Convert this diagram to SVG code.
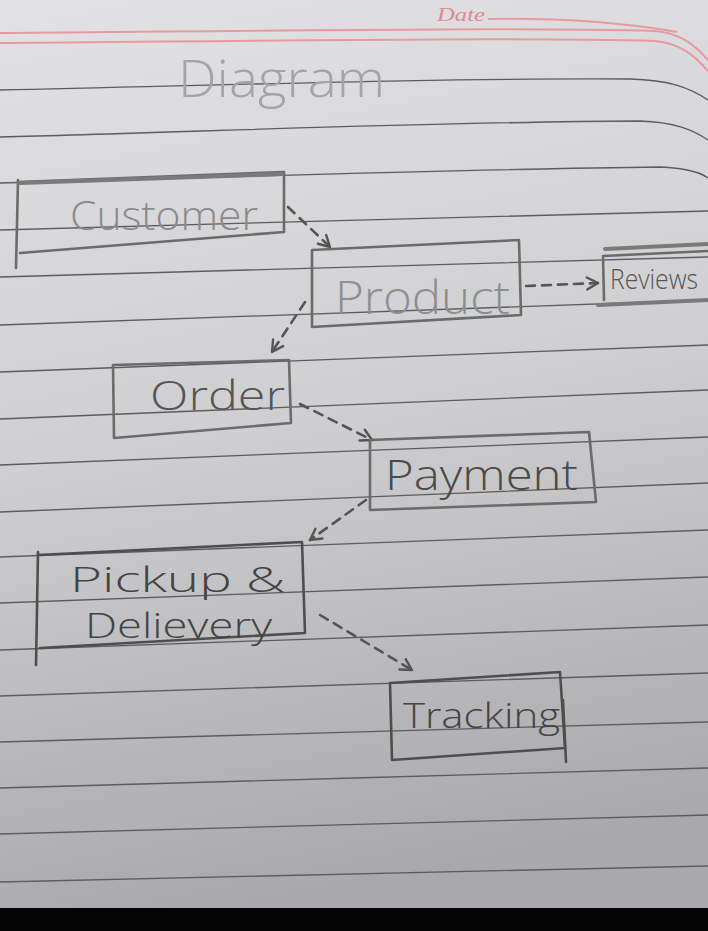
<svg xmlns="http://www.w3.org/2000/svg" width="708" height="931" viewBox="0 0 708 931">
<defs>
<linearGradient id="paper" x1="0" y1="0" x2="0.15" y2="1">
<stop offset="0" stop-color="#e2e2e4"/>
<stop offset="0.5" stop-color="#cfcfd1"/>
<stop offset="1" stop-color="#a9a9ab"/>
</linearGradient>
<marker id="arr" viewBox="0 0 16 16" refX="13" refY="8" markerWidth="16" markerHeight="16" markerUnits="userSpaceOnUse" orient="auto">
<path d="M2,2 L13,8 L2,14" fill="none" stroke="#555" stroke-width="2.4" stroke-linecap="round" stroke-linejoin="round"/>
</marker>
<style>
.rule{fill:none;stroke:#5c5c5e;stroke-width:1.3}
.pink{fill:none;stroke:#e59aa0;stroke-width:2}
.box{fill:none;stroke:#6b6b6b;stroke-width:2.6;stroke-linejoin:round;stroke-linecap:round}
.dark{stroke:#4e4e4e}
.thick{fill:none;stroke:#7a7a7a;stroke-width:4;stroke-linecap:round}
.conn{fill:none;stroke:#555;stroke-width:2.6;stroke-dasharray:9 7;stroke-linecap:round}
.hand{font-family:"Open Sans","DejaVu Sans",sans-serif;font-weight:300;}
</style>
</defs>
<rect x="0" y="0" width="708" height="931" fill="url(#paper)"/>
<rect x="0" y="908" width="708" height="23" fill="#050505"/>
<g id="paper-lines">
<path class="pink" d="M0,33 C250,31 500,27 655,31 C680,33 695,45 708,60"/>
<path class="pink" d="M0,43 C250,41 500,37 655,41 C680,43 695,56 708,71"/>
<path class="pink" d="M488,19 C560,18 620,22 677,32"/>
<text x="437" y="21" font-family="Liberation Serif,serif" font-style="italic" font-size="18" fill="#e08890" textLength="48" lengthAdjust="spacingAndGlyphs">Date</text>
<path class="rule" d="M0,90 C200,86 420,78 630,79 C670,80 690,88 708,100"/>
<path class="rule" d="M0,137 C200,132 420,122 640,121 C675,122 693,130 708,140"/>
<path class="rule" d="M0,183 C236,177 472,169 660,167 C685,168 700,172 708,178"/>
<path class="rule" d="M0,230 C236,224 472,216 708,211"/>
<path class="rule" d="M0,277 C236,270 472,263 708,257"/>
<path class="rule" d="M0,325 C236,316 472,308 708,300"/>
<path class="rule" d="M0,372 C236,362 472,353 708,345"/>
<path class="rule" d="M0,419 C236,409 472,399 708,390"/>
<path class="rule" d="M0,465 C236,455 472,446 708,437"/>
<path class="rule" d="M0,512 C236,502 472,492 708,483"/>
<path class="rule" d="M0,557 C236,548 472,539 708,530"/>
<path class="rule" d="M0,603 C236,594 472,585 708,577"/>
<path class="rule" d="M0,650 C236,641 472,633 708,625"/>
<path class="rule" d="M0,696 C236,688 472,680 708,673"/>
<path class="rule" d="M0,742 C236,735 472,728 708,722"/>
<path class="rule" d="M0,788 C236,781 472,775 708,768"/>
<path class="rule" d="M0,834 C236,828 472,822 708,815"/>
<path class="rule" d="M0,882 C236,877 472,872 708,866"/>
</g>
<text id="title" class="hand" x="178" y="97" font-size="52" fill="#a4a4a6" textLength="207" lengthAdjust="spacingAndGlyphs">Diagram</text>
<g id="connectors">
<path class="conn" d="M288,207 L330,247" marker-end="url(#arr)"/>
<path class="conn" d="M526,286 L598,283" marker-end="url(#arr)"/>
<path class="conn" d="M305,302 L272,352" marker-end="url(#arr)"/>
<path class="conn" d="M300,404 L372,440" marker-end="url(#arr)"/>
<path class="conn" d="M366,500 L310,540" marker-end="url(#arr)"/>
<path class="conn" d="M320,615 L412,670" marker-end="url(#arr)"/>
</g>
<g id="customer">
<path class="box" d="M18,182 L284,172 L284,232 L20,253"/>
<path class="box" d="M18,180 L16,268"/>
<path class="thick" d="M20,183 L282,174"/>
<text class="hand" x="70" y="230" font-size="40" fill="#8a8a8c" textLength="188" lengthAdjust="spacingAndGlyphs">Customer</text>
</g>
<g id="product">
<path class="box" d="M312,250 L519,240 L521,315 L312,327 Z"/>
<text class="hand" x="335" y="314" font-size="46" fill="#8e8e90" textLength="175" lengthAdjust="spacingAndGlyphs">Product</text>
</g>
<g id="reviews">
<path class="box" d="M603,256 L708,251 M603,256 L604,300"/>
<path class="thick" d="M605,249 L708,244 M598,305 L708,300"/>
<text class="hand" x="610" y="289" font-size="27" fill="#555" textLength="88" lengthAdjust="spacingAndGlyphs">Reviews</text>
</g>
<g id="order">
<path class="box" d="M113,365 L289,360 L291,423 L114,438 Z"/>
<text class="hand" x="150" y="410" font-size="40" fill="#555" textLength="135" lengthAdjust="spacingAndGlyphs">Order</text>
</g>
<g id="payment">
<path class="box" d="M370,440 L589,432 L596,502 L370,510 Z"/>
<text class="hand" x="385" y="490" font-size="42" fill="#4a4a4a" textLength="193" lengthAdjust="spacingAndGlyphs">Payment</text>
</g>
<g id="pickup">
<path class="box dark" d="M38,555 L302,542 L305,633 L40,648"/>
<path class="box dark" d="M38,552 L36,665"/>
<text class="hand" x="70" y="592" font-size="35" fill="#444" textLength="215" lengthAdjust="spacingAndGlyphs">Pickup &amp;</text>
<text class="hand" x="85" y="638" font-size="35" fill="#444" textLength="187" lengthAdjust="spacingAndGlyphs">Delievery</text>
</g>
<g id="tracking">
<path class="box dark" d="M390,683 L560,672 L565,748 L392,760 Z"/>
<path class="box dark" d="M563,700 L566,762"/>
<text class="hand" x="403" y="728" font-size="34" fill="#444" textLength="157" lengthAdjust="spacingAndGlyphs">Tracking</text>
</g>
</svg>
